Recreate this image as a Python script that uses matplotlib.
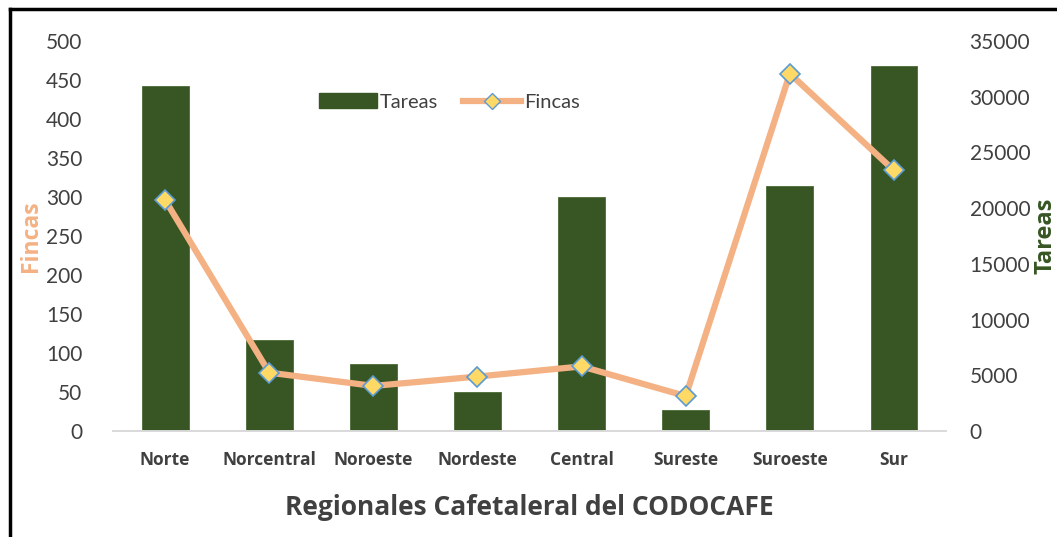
import matplotlib.pyplot as plt
import numpy as np
from matplotlib.lines import Line2D

# Data
regiones = ['Norte', 'Norcentral', 'Noroeste', 'Nordeste', 'Central', 'Sureste', 'Suroeste', 'Sur']
tareas = [30950, 8170, 6010, 3530, 21000, 1890, 21990, 32750]
fincas = [296, 75, 58, 70, 83, 45, 458, 334]

plt.rcParams['font.family'] = ['Lato', 'DejaVu Sans']
BOLD = ['Open Sans', 'DejaVu Sans']

fig = plt.figure(figsize=(10.57, 5.37), dpi=100)
ax = fig.add_axes([0.107, 0.197, 0.788, 0.727])
ax2 = ax.twinx()

x = np.arange(len(regiones))

# Tareas bars (right axis)
ax.bar(x, tareas, width=0.45, color='#375623', edgecolor='#4a6a36', linewidth=0.6,
       label='Tareas', zorder=2)
ax.set_ylim(0, 35000)
ax.set_yticks(np.arange(0, 35001, 5000))
ax.yaxis.tick_right()
ax.yaxis.set_label_position('right')
ax.set_xlim(-0.5, len(regiones) - 0.5)
ax.set_xticks(x)
ax.set_xticklabels(regiones, fontsize=12.5, fontweight='bold', family=BOLD, color='#404040')
ax.tick_params(axis='x', length=0, pad=14)
ax.tick_params(axis='y', length=0, pad=17, labelsize=15, labelcolor='#404040')
ax.set_ylabel('Tareas', fontsize=17, fontweight='bold', family=BOLD, color='#375623')
ax.yaxis.set_label_coords(1.105, 0.5)
ax.set_xlabel('Regionales Cafetaleral del CODOCAFE', fontsize=19, fontweight='bold',
              family=BOLD, color='#404040', labelpad=18)

# Fincas line (left axis)
ax2.plot(x, fincas, color='#F4B183', linewidth=4.5, marker='D', markersize=10,
         markerfacecolor='#FFD966', markeredgecolor='#5B9BD5', markeredgewidth=1.2,
         label='Fincas', zorder=3)
ax2.set_ylim(0, 500)
ax2.set_yticks(np.arange(0, 501, 50))
ax2.yaxis.tick_left()
ax2.yaxis.set_label_position('left')
ax2.tick_params(axis='y', length=0, pad=22, labelsize=15, labelcolor='#404040')
ax2.set_ylabel('Fincas', fontsize=16.5, fontweight='bold', family=BOLD, color='#F4B183')
ax2.yaxis.set_label_coords(-0.084, 0.5)

for a in (ax, ax2):
    for s in ['top', 'left', 'right']:
        a.spines[s].set_visible(False)
    a.spines['bottom'].set_color('#D9D9D9')
    a.spines['bottom'].set_linewidth(1.2)

handles = [
    plt.Rectangle((0, 0), 1, 1, color='#375623'),
    Line2D([0], [0], color='#F4B183', linewidth=4.5, marker='D', markersize=8,
           markerfacecolor='#FFD966', markeredgecolor='#5B9BD5', markeredgewidth=1.0),
]
leg = fig.legend(handles, ['Tareas', 'Fincas'], loc='center', ncol=2,
                 bbox_to_anchor=(0.425, 0.81), frameon=False, fontsize=14.5,
                 handlelength=2.9, handletextpad=0.15, columnspacing=1.2)
for t in leg.get_texts():
    t.set_color('#404040')

# Frame lines at top and left of the picture
fig.add_artist(Line2D([0.009, 0.009], [0, 0.983], color='black', linewidth=2.5,
                      transform=fig.transFigure))
fig.add_artist(Line2D([0.009, 1.0], [0.983, 0.983], color='black', linewidth=2.5,
                      transform=fig.transFigure))

fig.savefig('out.png', dpi=100)
